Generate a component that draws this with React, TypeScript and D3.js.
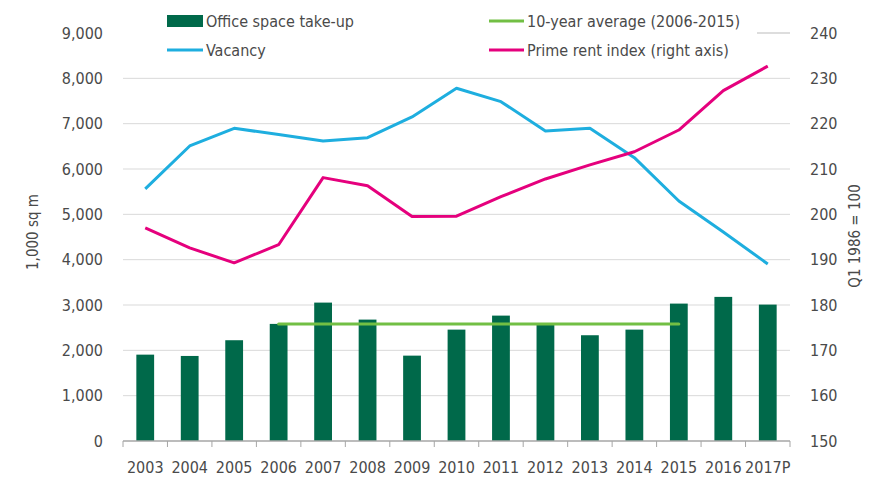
import React from "react";
import * as d3 from "d3";

const years = ["2003","2004","2005","2006","2007","2008","2009","2010","2011","2012","2013","2014","2015","2016","2017P"];
const takeUp = [1905,1876,2223,2583,3053,2678,1883,2457,2766,2590,2333,2457,3031,3179,3009];
const vacancy = [5560,6508,6898,6760,6618,6691,7148,7780,7485,6839,6898,6250,5294,4610,3905];
const primeRent = [197.0,192.6,189.3,193.3,208.1,206.3,199.5,199.6,203.9,207.8,210.9,213.8,218.6,227.3,232.7];
const avgYears = ["2006","2015"];
const avgValue = 2582;
const leftTicks = [0,1000,2000,3000,4000,5000,6000,7000,8000,9000];
const rightTicks = [150,160,170,180,190,200,210,220,230,240];

const W = 870, H = 477;
const X0 = 123, X1 = 790, Y0 = 441, Y1 = 33;
const FONT = "'DejaVu Sans Condensed', 'Liberation Sans Narrow', 'DejaVu Sans', sans-serif";
const TXT = "#4a4a4a";

export default function App() {
  const x = d3.scaleBand<string>().domain(years).range([X0, X1]).paddingInner(0.6).paddingOuter(0.3);
  const xc = (d: string) => (x(d) as number) + x.bandwidth() / 2;
  const step = (X1 - X0) / years.length;
  const yL = d3.scaleLinear().domain([0, 9000]).range([Y0, Y1]);
  const yR = d3.scaleLinear().domain([150, 240]).range([Y0, Y1]);
  const fmt = d3.format(",");
  const vacLine = d3.line<number>().x((_, i) => xc(years[i])).y(d => yL(d))(vacancy) as string;
  const rentLine = d3.line<number>().x((_, i) => xc(years[i])).y(d => yR(d))(primeRent) as string;

  return (
    <svg width={W} height={H} style={{ display: "block", position: "absolute", left: 0, top: 0 }} fontFamily={FONT}>
      <rect width={W} height={H} fill="#fff" />
      {leftTicks.filter(t => t > 0 && t < 9000).map(t => (
        <line key={t} x1={X0} x2={X1} y1={yL(t)} y2={yL(t)} stroke="#d9d9d9" strokeWidth={1} />
      ))}
      <line x1={757} x2={X1} y1={yL(9000)} y2={yL(9000)} stroke="#bbb" strokeWidth={1} />
      {years.map((d, i) => (
        <rect key={d} x={x(d)} width={x.bandwidth()} y={yL(takeUp[i])} height={Y0 - yL(takeUp[i])} fill="#00694a" />
      ))}
      <line x1={X0} x2={X1} y1={Y0} y2={Y0} stroke="#a6a6a6" strokeWidth={1.5} />
      {d3.range(years.length + 1).map(i => (
        <line key={i} x1={X0 + i * step} x2={X0 + i * step} y1={Y0} y2={Y0 + 6} stroke="#a6a6a6" strokeWidth={1} />
      ))}
      <line x1={xc(avgYears[0])} x2={xc(avgYears[1])} y1={yL(avgValue)} y2={yL(avgValue)} stroke="#72bf44" strokeWidth={3} strokeLinecap="round" />
      <path d={vacLine} fill="none" stroke="#1eaedf" strokeWidth={3} strokeLinejoin="round" />
      <path d={rentLine} fill="none" stroke="#e5007d" strokeWidth={3} strokeLinejoin="round" />
      {leftTicks.map(t => (
        <text key={t} x={103} y={yL(t)} dy="0.35em" textAnchor="end" fontSize={16} fill={TXT}>{fmt(t)}</text>
      ))}
      {rightTicks.map(t => (
        <text key={t} x={810} y={yR(t)} dy="0.35em" textAnchor="start" fontSize={16} fill={TXT}>{t}</text>
      ))}
      {years.map(d => (
        <text key={d} x={xc(d)} y={473} textAnchor="middle" fontSize={16} fill={TXT}>{d}</text>
      ))}
      <text transform="translate(38,232) rotate(-90)" textAnchor="middle" fontSize={15} fill={TXT}>1,000 sq m</text>
      <text transform="translate(860,236) rotate(-90)" textAnchor="middle" fontSize={15} fill={TXT}>Q1 1986 = 100</text>
      <rect x={167} y={15} width={36} height={12} fill="#00694a" />
      <text x={206} y={27} fontSize={16} fill={TXT}>Office space take-up</text>
      <line x1={167} x2={203} y1={50} y2={50} stroke="#1eaedf" strokeWidth={3} />
      <text x={206} y={56} fontSize={16} fill={TXT}>Vacancy</text>
      <line x1={489} x2={524} y1={21} y2={21} stroke="#72bf44" strokeWidth={3} />
      <text x={527} y={27} fontSize={16} fill={TXT}>10-year average (2006-2015)</text>
      <line x1={489} x2={524} y1={50} y2={50} stroke="#e5007d" strokeWidth={3} />
      <text x={527} y={56} fontSize={16} fill={TXT}>Prime rent index (right axis)</text>
    </svg>
  );
}
